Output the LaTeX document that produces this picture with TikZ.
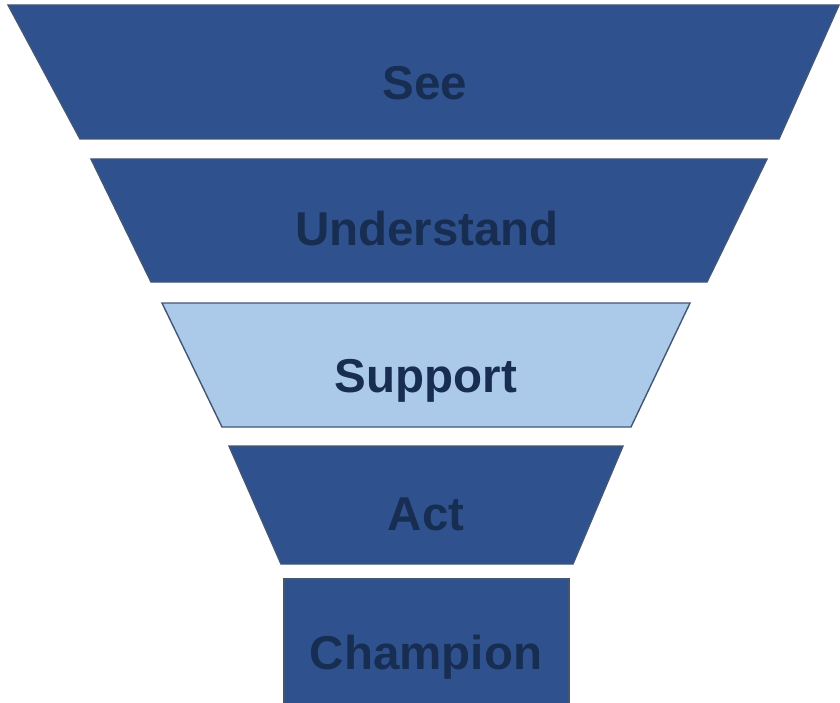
\documentclass[tikz,border=0pt]{standalone}
\usepackage{fontspec}
\setmainfont{Liberation Sans}
\usepackage{xcolor}
\usepackage{tikz}
\usetikzlibrary{positioning}
\definecolor{funnelblue}{HTML}{2F528F}
\definecolor{funnellight}{HTML}{ABCAE9}
\definecolor{funneledge}{HTML}{435673}
\definecolor{labelnavy}{HTML}{182D52}

\begin{document}
\begin{tikzpicture}[
    x=1pt, y=-1pt,
    layer/.style={draw=funneledge, line width=1.4pt, line join=miter, fill=funnelblue},
    hilite/.style={layer, fill=funnellight},
    lbl/.style={font=\fontsize{47.5}{56}\selectfont\bfseries, text=labelnavy, inner sep=0pt, anchor=base},
]
\clip (0,0) rectangle (840,703);

% See
\draw[layer] (8,5) -- (839,5) -- (779,139) -- (80,139) -- cycle;
\node[lbl] (see) at (425,100) {See};

% Understand
\draw[layer] (91,159) -- (767,159) -- (707,282) -- (151,282) -- cycle;
\node[lbl] (understand) at (427,246) {Understand};

% Support
\draw[hilite] (162,303) -- (690,303) -- (631,427) -- (222,427) -- cycle;
\node[lbl] (support) at (426,392) {Support};

% Act
\draw[layer] (229,446) -- (623,446) -- (573,564) -- (281,564) -- cycle;
\node[lbl] (act) at (426,530) {Act};

% Champion
\draw[layer] (284,579) rectangle (569,712);
\node[lbl] (champion) at (426,669) {Champion};

\end{tikzpicture}
\end{document}
